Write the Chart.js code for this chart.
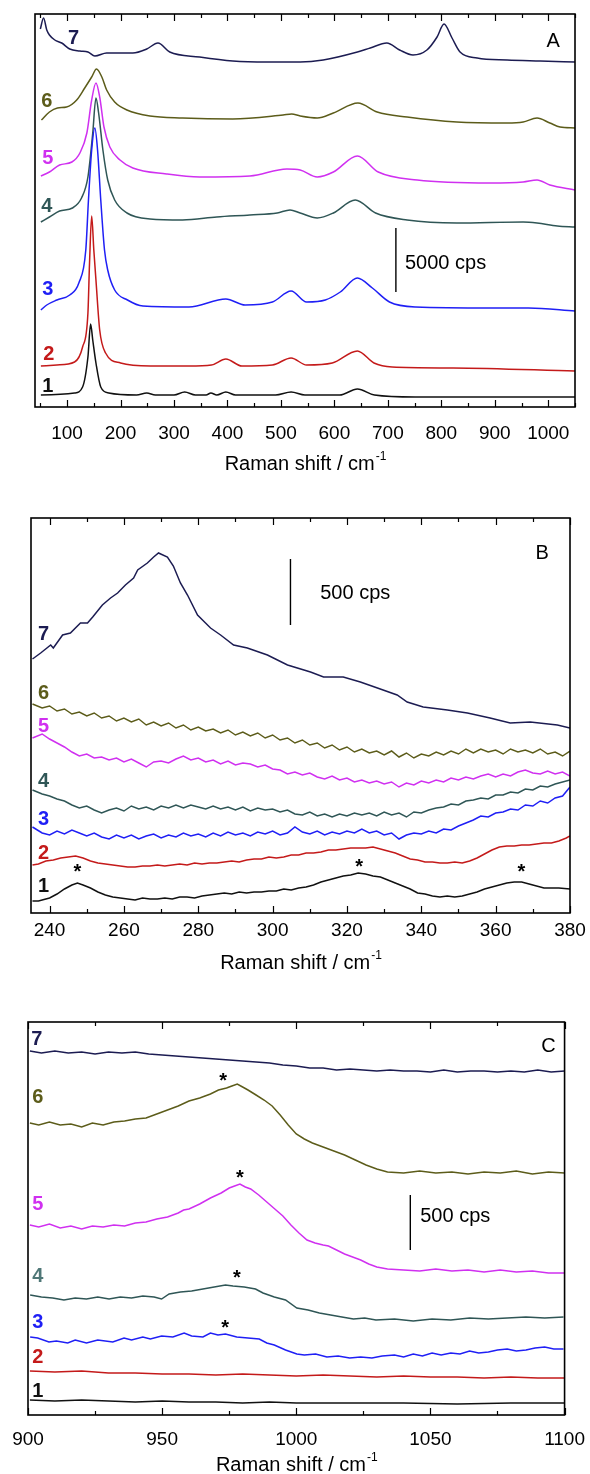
<!DOCTYPE html>
<html lang="en">
<head>
<meta charset="UTF-8">
<title>Raman spectra</title>
<script src="https://cdn.jsdelivr.net/npm/chart.js"></script>
<style>
  body { margin: 0; background: #fff; }
  canvas { position: absolute; left: 0; }
</style>
</head>
<body>
<canvas id="chartA" style="top:0px" width="590" height="490"></canvas>
<canvas id="chartB" style="top:490px" width="590" height="490"></canvas>
<canvas id="chartC" style="top:980px" width="590" height="494"></canvas>
<script>
const sampleNames = ['1', '2', '3', '4', '5', '6', '7'];
const sampleColors = ['#111111', '#c41a1a', '#1f1ff5', '#2f5656', '#d030f0', '#5c5c1a', '#1c1c52'];

// panel A: 40-1050 cm-1, [Raman shift, intensity (a.u., offset)]
const A1 = [[51,12],[114,14],[129,20],[139,50],[144,83],[148,67],[154,44],[163,20],[178,14],[230,12],[249,14],[265,12],[300,12],[320,15],[340,12],[360,12],[369,14],[380,12],[397,15],[415,12],[490,12],[519,15],[545,12],[610,12],[643,18],[675,12],[751,10],[1050,10]];
const A2 = [[51,41],[81,42],[114,45],[129,60],[139,94],[142,144],[146,191],[150,157],[154,127],[161,77],[172,54],[200,44],[256,41],[328,41],[370,42],[397,48],[427,41],[484,42],[519,49],[548,42],[596,44],[643,56],[674,44],[708,40],[822,39],[1050,36]];
const A3 = [[51,97],[62,102],[81,107],[105,112],[122,124],[135,157],[140,207],[146,257],[152,279],[157,257],[163,207],[170,157],[176,137],[189,117],[213,107],[242,101],[328,100],[397,108],[433,102],[484,105],[519,116],[548,105],[583,107],[611,115],[643,129],[671,119],[703,105],[752,100],[894,99],[963,99],[1050,96]];
const A4 = [[51,185],[67,190],[86,196],[110,199],[127,209],[139,230],[148,274],[154,309],[159,294],[167,257],[176,227],[189,207],[212,194],[255,188],[316,187],[380,190],[442,192],[493,194],[517,197],[536,194],[568,189],[598,194],[639,207],[677,194],[736,187],[829,184],[953,185],[979,184],[1017,181],[1050,180]];
const A5 = [[51,231],[67,235],[86,242],[109,245],[124,254],[137,274],[146,307],[154,324],[161,310],[169,280],[180,260],[199,247],[223,239],[286,233],[348,230],[442,231],[511,238],[536,237],[568,230],[598,235],[643,251],[682,235],[755,227],[892,224],[953,225],[979,227],[1003,222],[1050,217]];
const A6 = [[52,287],[67,295],[82,299],[99,300],[118,307],[133,319],[146,330],[155,338],[165,330],[174,317],[189,305],[212,297],[255,291],[316,289],[410,288],[504,292],[520,293],[536,291],[568,289],[598,294],[644,304],[680,295],[736,290],[829,285],[923,284],[953,285],[979,289],[1003,284],[1022,280],[1050,279]];
const A7 = [[50,378],[56,389],[62,377],[67,372],[77,367],[90,364],[105,358],[124,356],[139,355],[152,351],[174,354],[223,354],[249,358],[270,364],[292,355],[348,350],[410,346],[474,345],[536,345],[579,347],[643,355],[667,359],[698,364],[722,357],[747,352],[773,357],[792,370],[805,383],[820,369],[835,355],[867,349],[923,347],[985,346],[1050,345]];

// panel B: 235-380 cm-1
const B1 = [[235.4,12],[237,12],[239,14],[240,15],[242,19],[244,24],[246,28],[247.5,30],[249,28],[251,25],[253,21],[255,18],[257,16],[259,15],[261,14],[263,13],[265,15],[267,14],[269,14],[271,15],[273,14],[275,16],[277,16],[279,15],[281,17],[283,18],[285,19],[287,20],[289,19],[291,21],[293,20],[295,21],[297,21],[299,22],[301,22],[303,24],[305,23],[307,25],[309,26],[311,28],[313,31],[315,33],[317,35],[319,37],[321,38],[323,40],[325,39],[327,37],[329,36],[331,33],[333,30],[335,27],[337,24],[339,20],[341,19],[343,17],[345,16],[347,17],[349,16],[351,17],[353,19],[355,21],[357,24],[359,26],[361,28],[363,30],[365,31],[367,31],[369,29],[371,27],[373,25],[375,25],[377,25],[380,24]];
const B2 = [[235.4,48],[237,49],[239,52],[241,53],[243,55],[245,56],[247,57],[249,55],[251,52],[253,50],[255,49],[257,48],[259,47],[261,46],[263,46],[265,47],[267,47],[269,48],[271,47],[273,48],[275,49],[277,48],[279,50],[281,49],[283,50],[285,50],[287,51],[289,52],[291,51],[293,53],[295,54],[297,54],[299,56],[301,55],[303,56],[305,58],[307,58],[309,60],[311,60],[313,61],[315,63],[317,63],[319,64],[321,65],[323,65],[325,65],[327,66],[329,64],[331,62],[333,60],[335,57],[337,54],[339,53],[341,51],[343,51],[345,50],[347,50],[349,51],[351,50],[353,52],[355,55],[357,59],[359,63],[361,66],[363,67],[365,67],[367,68],[369,68],[371,69],[373,70],[375,70],[377,72],[379,75],[380,77]];
const B3 = [[235.4,86],[238,80],[240,78],[242,82],[244,79],[246,83],[248,80],[250,77],[252,80],[254,76],[256,74],[258,78],[260,75],[262,78],[264,74],[266,77],[268,79],[270,75],[272,78],[274,76],[276,80],[278,77],[280,79],[282,76],[284,80],[286,77],[288,81],[290,78],[292,80],[294,77],[296,81],[298,79],[300,82],[302,78],[304,80],[306,86],[308,81],[310,79],[312,82],[314,78],[316,81],[318,79],[320,82],[322,80],[324,84],[326,80],[328,82],[330,78],[332,80],[334,74],[336,78],[338,80],[340,79],[342,82],[344,80],[346,84],[348,83],[350,87],[352,90],[354,93],[356,97],[358,96],[360,100],[362,101],[364,104],[366,103],[368,108],[370,107],[372,112],[374,110],[376,115],[378,117],[380,126]];
const B4 = [[235.4,123],[238,119],[240,117],[242,114],[244,112],[246,108],[248,105],[250,107],[252,103],[254,100],[256,103],[258,105],[260,102],[262,107],[264,104],[266,106],[268,103],[270,107],[272,105],[274,108],[276,105],[278,108],[280,106],[282,104],[284,107],[286,104],[288,106],[290,103],[292,106],[294,102],[296,105],[298,103],[300,104],[302,101],[304,103],[306,99],[308,98],[310,101],[312,97],[314,99],[316,96],[318,99],[320,97],[322,100],[324,98],[326,100],[328,97],[330,101],[332,98],[334,100],[336,96],[338,101],[340,100],[342,103],[344,105],[346,106],[348,109],[350,108],[352,112],[354,113],[356,115],[358,114],[360,118],[362,118],[364,121],[366,120],[368,124],[370,123],[372,127],[374,126],[376,129],[378,131],[380,133]];
const B5 = [[235.4,175],[238,179],[240,174],[242,170],[244,166],[246,161],[248,157],[250,159],[252,155],[254,156],[256,153],[258,155],[260,151],[262,154],[264,150],[266,146],[268,151],[270,152],[272,150],[274,154],[276,157],[278,153],[280,155],[282,151],[284,153],[286,149],[288,152],[290,148],[292,150],[294,149],[296,146],[298,148],[300,144],[302,143],[304,139],[306,141],[308,138],[310,140],[312,136],[314,134],[316,137],[318,133],[320,135],[322,131],[324,133],[326,130],[328,132],[330,129],[332,131],[334,126],[336,130],[338,128],[340,132],[342,130],[344,133],[346,131],[348,135],[350,133],[352,136],[354,134],[356,137],[358,139],[360,136],[362,139],[364,137],[366,141],[368,143],[370,140],[372,139],[374,142],[376,139],[378,141],[380,137]];
const B6 = [[235.4,209],[238,205],[240,207],[242,202],[244,204],[246,199],[248,201],[250,197],[252,200],[254,195],[256,197],[258,192],[260,195],[262,191],[264,194],[266,188],[268,191],[270,187],[272,190],[274,185],[276,188],[278,183],[280,186],[282,182],[284,184],[286,180],[288,183],[290,178],[292,181],[294,177],[296,180],[298,175],[300,178],[302,173],[304,175],[306,170],[308,173],[310,168],[312,170],[314,165],[316,168],[318,163],[320,166],[322,161],[324,164],[326,160],[328,162],[330,158],[332,162],[334,156],[336,160],[338,155],[340,159],[342,157],[344,161],[346,158],[348,162],[350,159],[352,164],[354,160],[356,164],[358,161],[360,163],[362,159],[364,164],[366,161],[368,163],[370,160],[372,164],[374,159],[376,161],[378,157],[380,162]];
const B7 = [[235.4,254],[237.6,260],[240.3,268],[241,265],[243.5,278],[245.6,280],[248.3,290],[250.2,290],[251.6,296],[254.2,308],[256.4,315],[258.3,320],[260.4,328],[262.6,335],[263.7,343],[266.3,350],[268,356],[269.3,360],[271.7,356],[273.3,347],[275.2,330],[277.1,318],[279.8,298],[283.3,285],[286,278],[289.5,268],[293.2,265],[298.6,258],[304,248],[310.2,241],[313.7,236],[319,236],[323.6,231],[328.2,225],[333.5,218],[336.2,211],[340.5,206],[347,203],[352.4,200],[358.5,195],[363.9,190],[369.3,191],[376.6,188],[380,185]];

// panel C: 900-1100 cm-1
const C1 = [[900.7,15],[910,14],[920,15],[930,14],[940,13],[950,14],[960,13],[970,13],[980,12],[990,13],[1000,12],[1010,12],[1020,12],[1040,12],[1060,11],[1080,12],[1100,12]];
const C2 = [[900.7,44],[910,43],[920,44],[930,42],[940,42],[950,41],[960,41],[970,40],[980,41],[990,40],[1000,39],[1010,40],[1020,39],[1030,38],[1040,39],[1050,38],[1060,38],[1070,37],[1080,38],[1090,37],[1100,37]];
const C3 = [[900.8,78],[903.6,77],[907.8,73],[910.6,74],[914.8,72],[917.6,75],[921.8,72],[926,75],[931.6,73],[935.8,77],[938.6,75],[942.8,78],[945.6,76],[949.8,79],[954,78],[958.2,82],[961,79],[965.2,78],[968,82],[970.8,80],[973.6,81],[977.8,78],[982,77],[986.2,76],[989,72],[991.8,70],[996,65],[1000.2,61],[1003,60],[1007.2,61],[1011.4,58],[1015.6,59],[1019.9,57],[1024,58],[1028.2,57],[1032,59],[1036.6,60],[1040,58],[1043.6,61],[1047,59],[1050.6,62],[1054,60],[1057.6,62],[1061,61],[1064.6,64],[1068,62],[1071.6,63],[1075,65],[1078.6,66],[1082,64],[1085.6,65],[1089,67],[1092.6,68],[1096,66],[1099.6,66]];
const C4 = [[900.8,120],[905,118],[909.2,117],[913.4,115],[917.6,117],[921.8,116],[926,118],[930.2,116],[934.4,118],[938.6,117],[942.8,119],[947,118],[949.8,116],[952.6,121],[956.8,123],[961,124],[965.2,126],[969.4,128],[973.6,130],[976.4,129],[980.6,128],[984.8,126],[987.6,122],[991.8,118],[996,115],[1000.2,107],[1004.4,105],[1008.6,102],[1012.8,100],[1017,98],[1021.3,96],[1025.5,97],[1029.7,95],[1036.6,96],[1043.6,94],[1050.6,96],[1057.6,95],[1064.6,97],[1071.6,96],[1078.6,97],[1085.6,98],[1092.6,97],[1099.6,98]];
const C5 = [[900.7,190],[904,188],[908,191],[912,187],[916,189],[920,186],[924,189],[928,188],[932,190],[936,189],[940,192],[944,193],[948,196],[952,198],[956,202],[958,205],[960,206],[964,211],[968,217],[972,222],[975,227],[977,229],[979,231],[981,228],[983,226],[986,220],[989,213],[992,206],[995,199],[998,190],[1001,182],[1004,175],[1007,172],[1010,170],[1012,169],[1015,165],[1018,161],[1021,158],[1024,155],[1027,151],[1030,148],[1034,146],[1040,145],[1046,144],[1052,146],[1058,144],[1064,145],[1070,143],[1076,145],[1082,143],[1088,144],[1094,142],[1100,142]];
const C6 = [[900.7,292],[904,290],[908,293],[912,290],[916,291],[920,288],[924,292],[928,290],[932,293],[936,294],[940,296],[944,297],[948,301],[952,305],[956,309],[960,314],[964,317],[968,321],[971,325],[974,327],[976,329],[978,331],[980,328],[982,325],[985,320],[988,315],[991,309],[994,300],[997,290],[1000,281],[1003,276],[1006,272],[1010,268],[1014,264],[1018,260],[1022,255],[1026,250],[1030,246],[1034,243],[1040,242],[1046,244],[1052,242],[1058,243],[1064,241],[1070,243],[1076,242],[1082,244],[1088,241],[1094,243],[1100,242]];
const C7 = [[900.7,364],[905,362],[910,364],[915,362],[920,363],[925,361],[930,363],[935,362],[940,363],[945,361],[950,360],[955,359],[960,358],[965,357],[970,356],[975,355],[980,354],[985,353],[990,352],[995,350],[1000,349],[1005,347],[1010,347],[1015,345],[1020,346],[1025,345],[1030,344],[1035,345],[1040,344],[1045,344],[1050,343],[1055,345],[1060,343],[1065,344],[1070,344],[1075,343],[1080,344],[1085,343],[1090,345],[1095,343],[1100,344]];

const tickLabelsA = [100, 200, 300, 400, 500, 600, 700, 800, 900, 1000];
const tickLabelsB = [240, 260, 280, 300, 320, 340, 360, 380];
const tickLabelsC = [900, 950, 1000, 1050, 1100];

const FONT = '"Liberation Sans", Arial, sans-serif';

function decor(p) {
  return {
    id: 'decor',
    afterDraw(chart) {
      const ctx = chart.ctx, a = chart.chartArea, x = chart.scales.x, y = chart.scales.y;
      ctx.save();
      // inward ticks, bottom and top
      ctx.strokeStyle = '#000';
      ctx.lineWidth = 1.2;
      ctx.beginPath();
      for (let v = p.tickStart; v <= p.max + 1e-6; v += p.minor) {
        const px = Math.round(x.getPixelForValue(v)) + 0.5;
        const major = Math.abs(v / p.major - Math.round(v / p.major)) < 1e-6;
        const len = major ? 7 : 4;
        ctx.moveTo(px, a.bottom); ctx.lineTo(px, a.bottom - len);
        ctx.moveTo(px, a.top); ctx.lineTo(px, a.top + len);
      }
      ctx.stroke();
      ctx.lineWidth = 1.6;
      ctx.strokeRect(a.left, a.top, a.right - a.left, a.bottom - a.top);

      // sample numbers
      ctx.textAlign = 'center';
      ctx.textBaseline = 'alphabetic';
      ctx.font = 'bold 20px ' + FONT;
      p.numPos.forEach((q, i) => {
        ctx.fillStyle = (p.numColors && p.numColors[i]) || sampleColors[i];
        ctx.fillText(sampleNames[i], x.getPixelForValue(q[0]), y.getPixelForValue(q[1]) + 7);
      });
      // asterisks
      ctx.fillStyle = '#000';
      ctx.font = 'bold 20px ' + FONT;
      (p.stars || []).forEach(q => {
        ctx.fillText('*', x.getPixelForValue(q[0]), y.getPixelForValue(q[1]) + 11);
      });
      // panel letter
      ctx.font = '20px ' + FONT;
      ctx.fillText(p.letter[0], x.getPixelForValue(p.letter[1]), y.getPixelForValue(p.letter[2]) + 7);
      // scale bar text
      ctx.textAlign = 'left';
      ctx.font = '20px ' + FONT;
      ctx.fillText(p.barText, x.getPixelForValue(p.barTextPos[0]), y.getPixelForValue(p.barTextPos[1]) + 7);
      // axis title with superscript
      const main = 'Raman shift / cm', sup = '-1';
      ctx.font = '20px ' + FONT;
      const w1 = ctx.measureText(main).width;
      ctx.font = '12px ' + FONT;
      const w2 = ctx.measureText(sup).width;
      const start = (a.left + a.right) / 2 - (w1 + w2) / 2;
      ctx.font = '20px ' + FONT;
      ctx.fillText(main, start, p.titleBase);
      ctx.font = '12px ' + FONT;
      ctx.fillText(sup, start + w1 + 1, p.titleBase - 10);
      ctx.restore();
    }
  };
}

function drawPanel(id, p) {
  const datasets = p.traces.map((t, i) => ({
    label: sampleNames[i],
    data: t.map(q => ({ x: q[0], y: q[1] })),
    borderColor: sampleColors[i],
    borderWidth: 1.5,
    pointRadius: 0,
    cubicInterpolationMode: p.smooth ? 'monotone' : 'default',
    tension: 0,
    fill: false
  }));
  datasets.push({
    label: 'scale',
    data: [{ x: p.bar[0], y: p.bar[1] }, { x: p.bar[0], y: p.bar[2] }],
    borderColor: '#000',
    borderWidth: 1.4,
    pointRadius: 0
  });
  new Chart(document.getElementById(id), {
    type: 'line',
    data: { datasets: datasets },
    options: {
      responsive: false,
      animation: false,
      events: [],
      layout: { padding: { left: p.pad[0], right: p.pad[1], top: p.pad[2], bottom: 0 } },
      scales: {
        x: {
          type: 'linear',
          min: p.min,
          max: p.max,
          grid: { display: false },
          border: { display: false },
          afterBuildTicks: s => { s.ticks = p.labels.map(v => ({ value: v })); },
          afterFit: s => { s.height = p.axisH; },
          ticks: {
            autoSkip: false,
            maxRotation: 0,
            padding: p.labelPad,
            color: '#000',
            font: { family: FONT, size: 19 },
            callback: v => String(v)
          }
        },
        y: { display: false, min: 0, max: p.ymax }
      },
      plugins: { legend: { display: false }, tooltip: { enabled: false } }
    },
    plugins: [decor(p)]
  });
}

drawPanel('chartA', {
  traces: [A1, A2, A3, A4, A5, A6, A7], smooth: true,
  min: 40, max: 1050, ymax: 393, labels: tickLabelsA,
  tickStart: 50, minor: 50, major: 100,
  pad: [35, 15, 14], axisH: 83, labelPad: 7, titleBase: 470,
  numPos: [[64, 22], [66, 54], [64, 119], [62, 202], [64, 250], [62, 307], [112, 370]],
  letter: ['A', 1009, 367],
  bar: [715, 115, 179], barText: '5000 cps', barTextPos: [732, 145]
});

drawPanel('chartB', {
  traces: [B1, B2, B3, B4, B5, B6, B7], smooth: false,
  min: 235, max: 380, ymax: 395, labels: tickLabelsB,
  tickStart: 240, minor: 10, major: 20,
  pad: [31, 20, 28], axisH: 67, labelPad: -2, titleBase: 479,
  numPos: [[238.4, 28], [238.4, 61], [238.4, 95], [238.4, 133], [238.4, 188], [238.4, 221], [238.4, 280]],
  stars: [[247.5, 46], [323.3, 51], [366.9, 46]],
  letter: ['B', 372.5, 361],
  bar: [304.8, 288, 354], barText: '500 cps', barTextPos: [312.8, 321]
});

drawPanel('chartC', {
  traces: [C1, C2, C3, C4, C5, C6, C7], smooth: false,
  min: 900, max: 1100, ymax: 393, labels: tickLabelsC,
  tickStart: 900, minor: 25, major: 50,
  pad: [28, 23, 42], axisH: 59, labelPad: 5, titleBase: 491,
  numPos: [[903.7, 25], [903.7, 59], [903.7, 94], [903.7, 140], [903.7, 212], [903.7, 319], [903.3, 377]],
  numColors: [null, null, null, '#4f7777'],
  stars: [[972.7, 339], [979, 242], [977.9, 142], [973.5, 92]],
  letter: ['C', 1094, 370],
  bar: [1042.5, 165, 220], barText: '500 cps', barTextPos: [1046.2, 200]
});
</script>
</body>
</html>
